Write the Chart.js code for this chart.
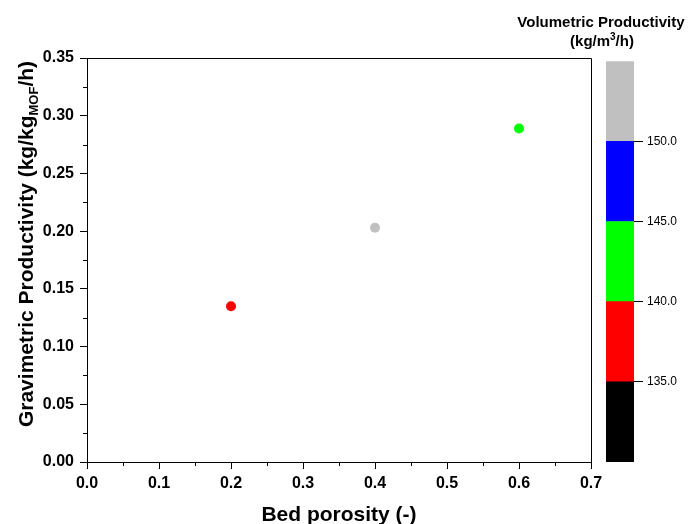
<!DOCTYPE html>
<html>
<head>
<meta charset="utf-8">
<script src="https://cdn.jsdelivr.net/npm/chart.js@4"></script>
<style>
  html, body { margin: 0; padding: 0; background: #fff; }
  #wrap { position: relative; width: 689px; height: 524px; overflow: hidden; }
  #mainChart { position: absolute; left: 0; top: 0; }
  #barChart { position: absolute; left: 590px; top: 50px; }
</style>
</head>
<body>
<div id="wrap">
  <canvas id="mainChart" width="689" height="524"></canvas>
  <canvas id="barChart" width="99" height="430"></canvas>
</div>
<script>
// data
const porosity = [0.2, 0.4, 0.6];
const gravimetric = [0.135, 0.203, 0.289];
const volumetric = [137.5, 152.5, 142.5]; // only the colour bin can be read

const xTicks = [0, 0.1, 0.2, 0.3, 0.4, 0.5, 0.6, 0.7];
const yTicks = [0, 0.05, 0.1, 0.15, 0.2, 0.25, 0.3, 0.35];

const cbLevels = [130, 135, 140, 145, 150, 155];
const cbColors = ['#000000', '#ff0000', '#00ff00', '#0000ff', '#c0c0c0'];
const cbTicks = [135, 140, 145, 150];

const FONT = "'Liberation Sans', Arial, sans-serif";

function colorFor(v) {
    for (let i = 0; i < cbColors.length; i++) {
        if (v >= cbLevels[i] && v < cbLevels[i + 1]) return cbColors[i];
    }
    return v < cbLevels[0] ? cbColors[0] : cbColors[cbColors.length - 1];
}

function fixedTicks(list) {
    return scale => { scale.ticks = list.map(v => ({ value: v })); };
}

// frame, minor ticks and the titles (subscript / superscript need manual drawing)
const decorPlugin = {
    id: 'decor',
    afterDraw(chart) {
        const { ctx, chartArea: a, scales } = chart;
        ctx.save();
        ctx.strokeStyle = '#000';
        ctx.lineWidth = 1;
        ctx.beginPath();
        ctx.moveTo(Math.round(a.left) + 0.5, Math.round(a.top) + 0.5);
        ctx.lineTo(Math.round(a.right) + 0.5, Math.round(a.top) + 0.5);
        ctx.lineTo(Math.round(a.right) + 0.5, Math.round(a.bottom) + 0.5);
        ctx.stroke();

        // minor ticks
        ctx.beginPath();
        for (let i = 0; i < xTicks.length - 1; i++) {
            const px = Math.round(scales.x.getPixelForValue((xTicks[i] + xTicks[i + 1]) / 2)) + 0.5;
            ctx.moveTo(px, a.bottom);
            ctx.lineTo(px, a.bottom + 4);
        }
        for (let i = 0; i < yTicks.length - 1; i++) {
            const py = Math.round(scales.y.getPixelForValue((yTicks[i] + yTicks[i + 1]) / 2)) + 0.5;
            ctx.moveTo(a.left, py);
            ctx.lineTo(a.left - 4, py);
        }
        ctx.stroke();

        ctx.fillStyle = '#000';
        ctx.textBaseline = 'alphabetic';

        // x title
        ctx.font = 'bold 21px ' + FONT;
        ctx.textAlign = 'center';
        ctx.fillText('Bed porosity (-)', (a.left + a.right) / 2, 521);

        // y title with subscript
        const parts = [
            { t: 'Gravimetric Productivity (kg/kg', f: 'bold 21px ' + FONT, dy: 0 },
            { t: 'MOF', f: 'bold 13px ' + FONT, dy: 5 },
            { t: '/h)', f: 'bold 21px ' + FONT, dy: 0 }
        ];
        let total = 0;
        parts.forEach(p => { ctx.font = p.f; p.w = ctx.measureText(p.t).width; total += p.w; });
        ctx.translate(33, 244);
        ctx.rotate(-Math.PI / 2);
        ctx.textAlign = 'left';
        let x = -total / 2;
        parts.forEach(p => { ctx.font = p.f; ctx.fillText(p.t, x, p.dy); x += p.w; });
        ctx.setTransform(1, 0, 0, 1, 0, 0);

        // colour bar title
        ctx.font = 'bold 15px ' + FONT;
        ctx.textAlign = 'center';
        ctx.fillText('Volumetric Productivity', 601, 27);
        const l2 = [
            { t: '(kg/m', f: 'bold 15px ' + FONT, dy: 0 },
            { t: '3', f: 'bold 10px ' + FONT, dy: -6 },
            { t: '/h)', f: 'bold 15px ' + FONT, dy: 0 }
        ];
        total = 0;
        l2.forEach(p => { ctx.font = p.f; p.w = ctx.measureText(p.t).width; total += p.w; });
        ctx.textAlign = 'left';
        x = 602 - total / 2;
        l2.forEach(p => { ctx.font = p.f; ctx.fillText(p.t, x, 46 + p.dy); x += p.w; });
        ctx.restore();
    }
};

const mainChart = new Chart(document.getElementById('mainChart'), {
    type: 'scatter',
    data: {
        datasets: [{
            data: porosity.map((p, i) => ({ x: p, y: gravimetric[i] })),
            pointBackgroundColor: volumetric.map(colorFor),
            pointBorderWidth: 0,
            pointRadius: 5,
            showLine: false
        }]
    },
    options: {
        responsive: false,
        animation: false,
        layout: { padding: { left: 0, top: 58, right: 98, bottom: 0 } },
        plugins: { legend: { display: false }, tooltip: { enabled: false } },
        scales: {
            x: {
                type: 'linear', min: 0, max: 0.7,
                afterBuildTicks: fixedTicks(xTicks),
                afterFit: s => { s.height = 62; },
                grid: { drawOnChartArea: false, tickLength: 7, color: '#000' },
                border: { color: '#000', width: 1 },
                ticks: { color: '#000', padding: 5, maxRotation: 0, font: { family: FONT, size: 16, weight: 'bold' }, callback: v => v.toFixed(1) }
            },
            y: {
                type: 'linear', min: 0, max: 0.35,
                afterBuildTicks: fixedTicks(yTicks),
                afterFit: s => { s.width = 87; },
                grid: { drawOnChartArea: false, tickLength: 7, color: '#000' },
                border: { color: '#000', width: 1 },
                ticks: { color: '#000', padding: 6, font: { family: FONT, size: 16, weight: 'bold' }, callback: v => v.toFixed(2) }
            }
        }
    },
    plugins: [decorPlugin]
});

const barChart = new Chart(document.getElementById('barChart'), {
    type: 'bar',
    data: {
        labels: [''],
        datasets: cbColors.map((c, i) => ({
            data: [[cbLevels[i], cbLevels[i + 1]]],
            backgroundColor: c,
            borderWidth: 0,
            categoryPercentage: 1,
            barPercentage: 1
        }))
    },
    options: {
        responsive: false,
        animation: false,
        layout: { padding: { left: 16, top: 9, right: 0, bottom: 18 } },
        plugins: { legend: { display: false }, tooltip: { enabled: false } },
        scales: {
            x: { display: false, stacked: true },
            y: {
                position: 'right',
                min: cbLevels[0], max: cbLevels[cbLevels.length - 1],
                afterBuildTicks: fixedTicks(cbTicks),
                afterFit: s => { s.width = 55; },
                grid: { drawOnChartArea: false, tickLength: 9, color: '#000' },
                border: { display: false },
                ticks: { color: '#000', padding: 4, font: { family: FONT, size: 12 }, callback: v => v.toFixed(1) }
            }
        }
    }
});
</script>
</body>
</html>
